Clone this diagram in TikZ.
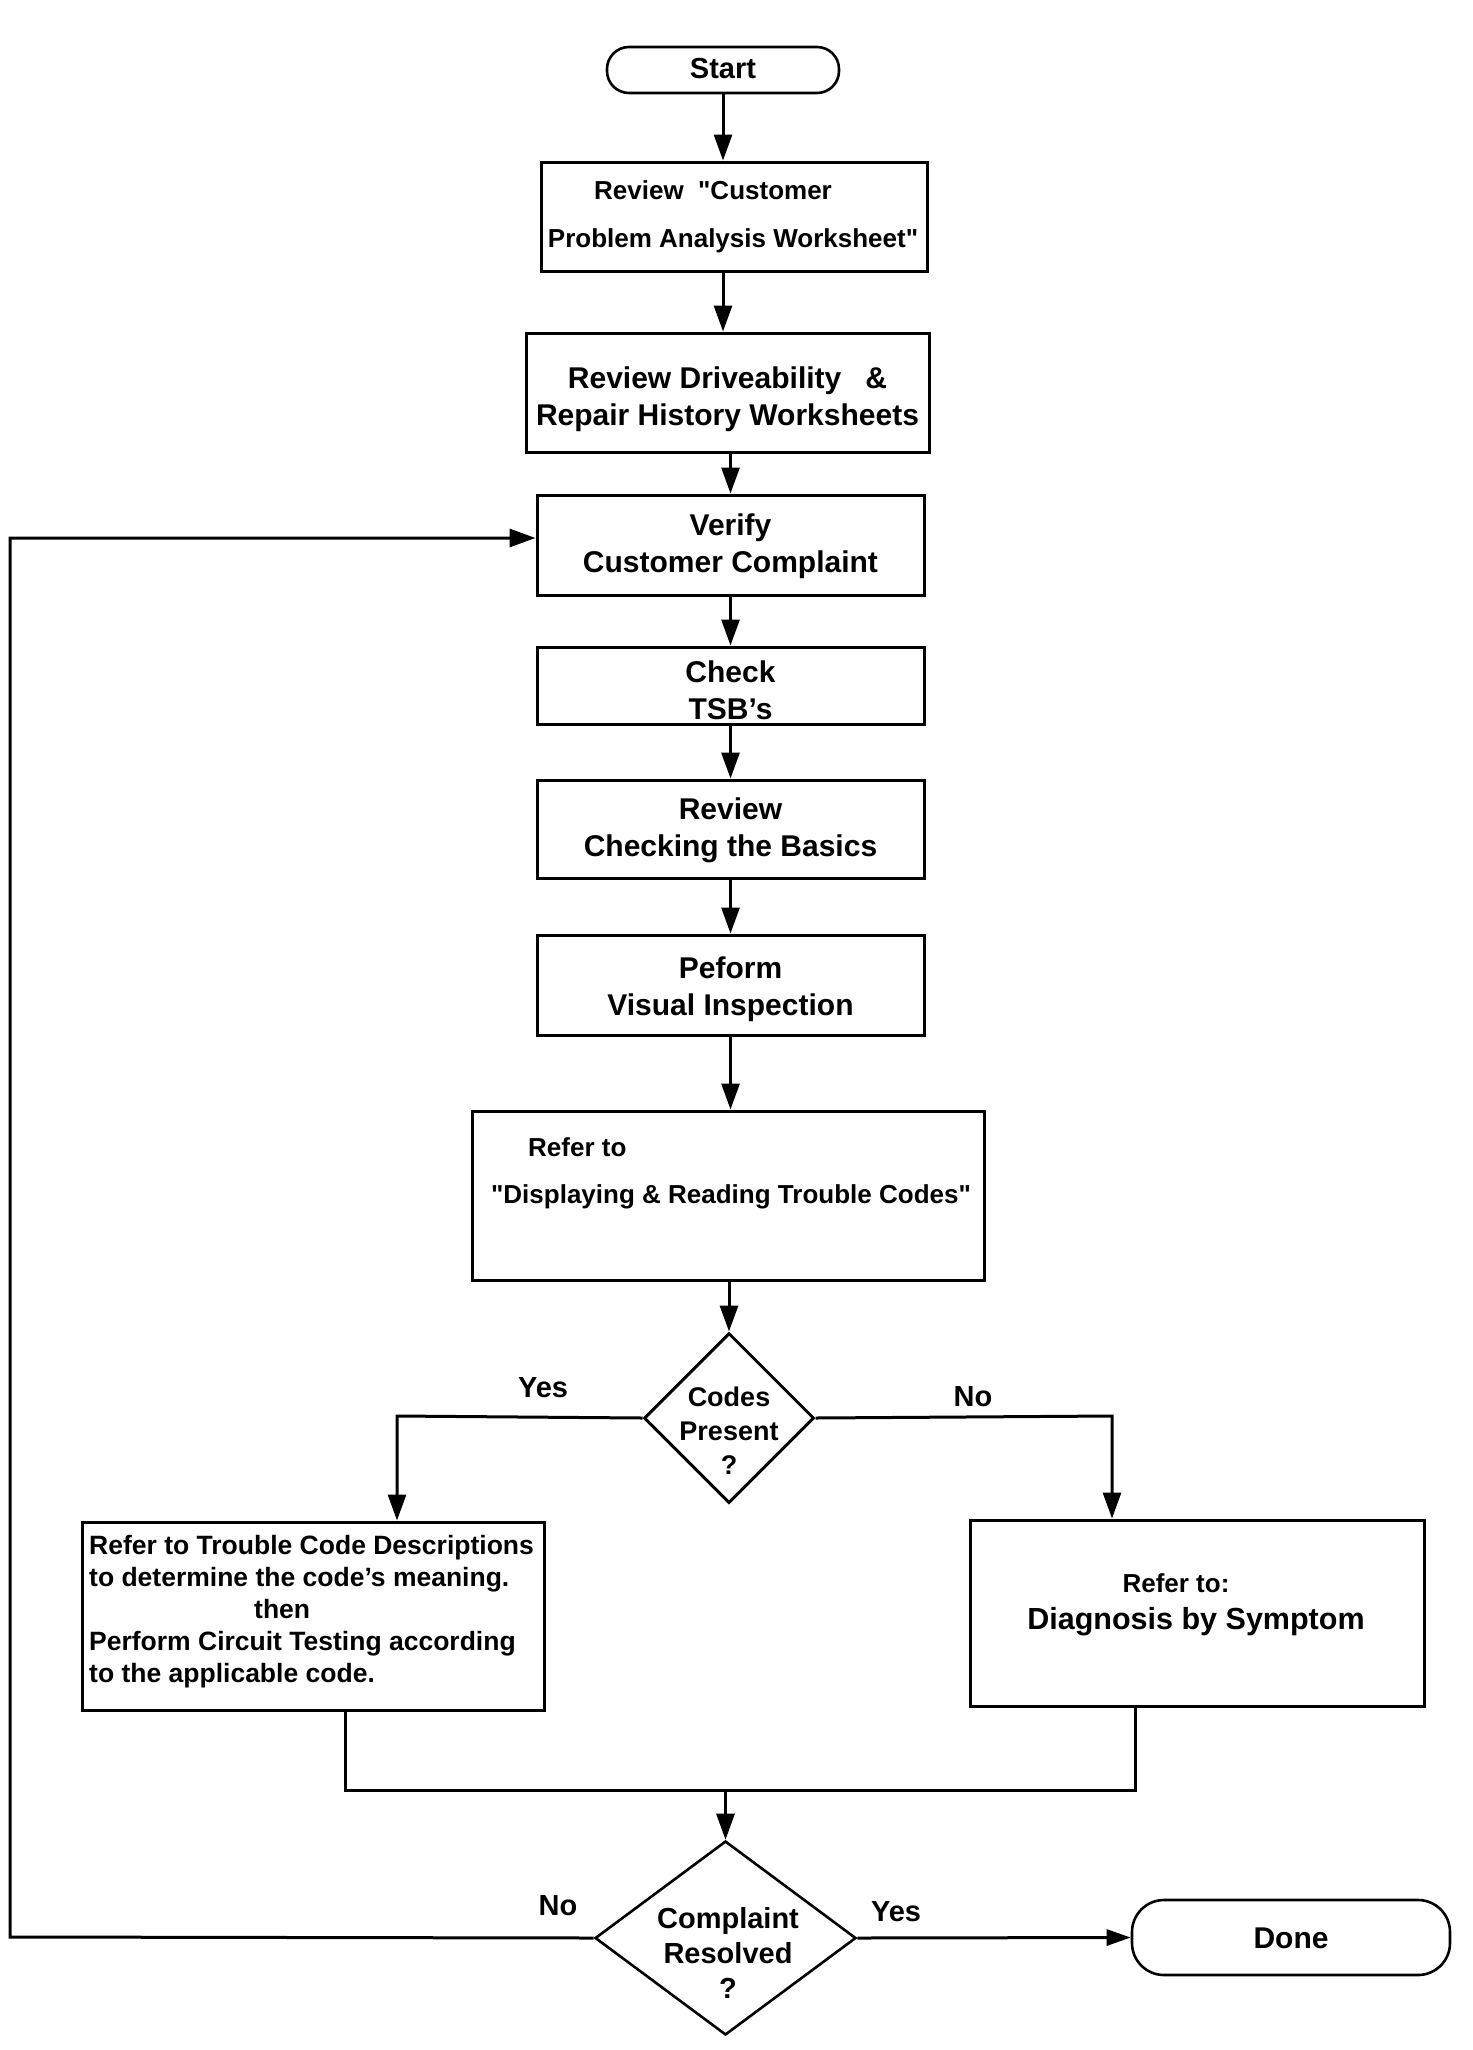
\documentclass[tikz,border=0pt]{standalone}
\usepackage{fontspec}
\setmainfont{Liberation Sans}
\usetikzlibrary{arrows.meta,shapes.geometric}
\begin{document}
\begin{tikzpicture}[x=1pt,y=-1pt,
  box/.style={draw,line width=3pt,rectangle,inner sep=0pt},
  term/.style={draw,line width=2.6pt,rectangle,inner sep=0pt},
  dia/.style={draw,diamond,inner sep=0pt,aspect=1},
  tA/.style={font=\fontsize{30}{37}\selectfont\bfseries,align=center,inner sep=0pt},
  tB/.style={font=\fontsize{26}{32}\selectfont\bfseries,align=center,inner sep=0pt},
  tC/.style={font=\fontsize{30.5}{34}\selectfont\bfseries,align=center,inner sep=0pt},
  lab/.style={font=\fontsize{29}{34}\selectfont\bfseries,inner sep=0pt},
  conn/.style={line width=3pt},
  arr/.style={line width=3pt,-{Triangle[length=26pt,width=18pt]}},
  arrs/.style={line width=3pt,-{Triangle[length=24pt,width=16pt]}}]
\useasboundingbox (0,0) rectangle (1472,2050);
\fill[white] (0,0) rectangle (1472,2050);

% boxes
\node[term,rounded corners=22pt,minimum width=232pt,minimum height=46pt] (start) at (723,70) {};
\node[font=\fontsize{29}{34}\selectfont\bfseries,inner sep=0pt] (startt) at (723,69) {Start};

\node[box,minimum width=386pt,minimum height=109pt] (box1) at (734,216.5) {};
\node[tB] (b1a) at (713,190) {Review \ \textquotedbl Customer};
\node[tB] (b1b) at (733,241) {Problem Analysis Worksheet\textquotedbl};

\node[box,minimum width=403pt,minimum height=119pt] (box2) at (727.5,392.5) {};
\node[tA] (b2t) at (727.5,399) {Review Driveability\hspace{24pt}\&\\Repair History Worksheets};

\node[box,minimum width=387pt,minimum height=100pt] (box3) at (730.5,545) {};
\node[tA] (b3t) at (730.5,546.5) {Verify\\Customer Complaint};

\node[box,minimum width=387pt,minimum height=77pt] (box4) at (730.5,685.5) {};
\node[tA] (b4t) at (730.5,690) {Check\\TSB’s};

\node[box,minimum width=387pt,minimum height=98pt] (box5) at (730.5,829) {};
\node[tA] (b5t) at (730.5,830.5) {Review\\Checking the Basics};

\node[box,minimum width=387pt,minimum height=100pt] (box6) at (730.5,985) {};
\node[tA] (b6t) at (730.5,989) {Peform\\Visual Inspection};

\node[box,minimum width=512pt,minimum height=169pt] (box7) at (728,1195.5) {};
\node[tB,anchor=west] (b7a) at (528,1147) {Refer to};
\node[tB] (b7b) at (731,1197) {\textquotedbl Displaying \& Reading Trouble Codes\textquotedbl};

% decision 1
\node[dia,line width=3pt,minimum width=170pt,minimum height=170pt] (d1) at (729,1418) {};
\node[font=\fontsize{27}{34}\selectfont\bfseries,align=center,inner sep=0pt] (d1t) at (729,1431) {Codes\\Present\\?};

\node[box,minimum width=462pt,minimum height=188pt] (left) at (313,1616) {};
\node[font=\fontsize{26.5}{32}\selectfont\bfseries,align=left,inner sep=0pt,anchor=west] (lt) at (89,1612)
  {Refer to Trouble Code Descriptions\\
   to determine the code’s meaning.\\
   \hspace*{165pt}then\\
   Perform Circuit Testing according\\
   to the applicable code.};

\node[box,minimum width=454pt,minimum height=186pt] (right) at (1197,1613) {};
\node[tB] (rta) at (1176,1583) {Refer to:};
\node[tC] (rtb) at (1196,1622) {Diagnosis by Symptom};

% decision 2
\node[dia,line width=2.6pt,minimum width=261pt,minimum height=194pt] (d2) at (725.5,1938) {};
\node[font=\fontsize{29}{35}\selectfont\bfseries,align=center,inner sep=0pt] (d2t) at (728,1953) {Complaint\\Resolved\\?};

\node[term,rounded corners=32pt,minimum width=318pt,minimum height=75pt] (done) at (1291,1937.5) {};
\node[font=\fontsize{30}{34}\selectfont\bfseries,inner sep=0pt] (donet) at (1291,1938) {Done};

% labels
\node[lab] (yes1) at (543,1388) {Yes};
\node[lab] (no1) at (973,1397) {No};
\node[lab] (no2) at (558,1906) {No};
\node[lab] (yes2) at (896,1912) {Yes};

% coordinates
\coordinate (yc) at (397,1416);
\coordinate (nc) at (1112,1416);
\coordinate (lb) at (345,1790);
\coordinate (rb) at (1135,1790);
\coordinate (m) at (729,1790);
\coordinate (fb) at (10,1937);
\coordinate (fbt) at (10,538);

% connectors
\draw[arr] (start.south) -- (start.south |- box1.north);
\draw[arr] (start.south |- box1.south) -- (start.south |- box2.north);
\draw[arr] (box3.north |- box2.south) -- (box3.north);
\draw[arr] (box3.south) -- (box4.north);
\draw[arr] (box4.south) -- (box5.north);
\draw[arr] (box5.south) -- (box6.north);
\draw[arr] (box6.south) -- (box6.south |- box7.north);
\draw[arr] (d1.north |- box7.south) -- (d1.north);
\draw[arr] (d1.west) -- (yc) -- (yc |- left.north);
\draw[arr] (d1.east) -- (nc) -- (nc |- right.north);
\draw[conn] (lb |- left.south) -- (lb) -- (rb) -- (rb |- right.south);
\draw[arr] (d2.north |- m) -- (d2.north);
\draw[arr] (d2.west) -- (fb) -- (fbt) -- (fbt -| box3.west);
\draw[arrs] (d2.east) -- (done.west);
\end{tikzpicture}
\end{document}
